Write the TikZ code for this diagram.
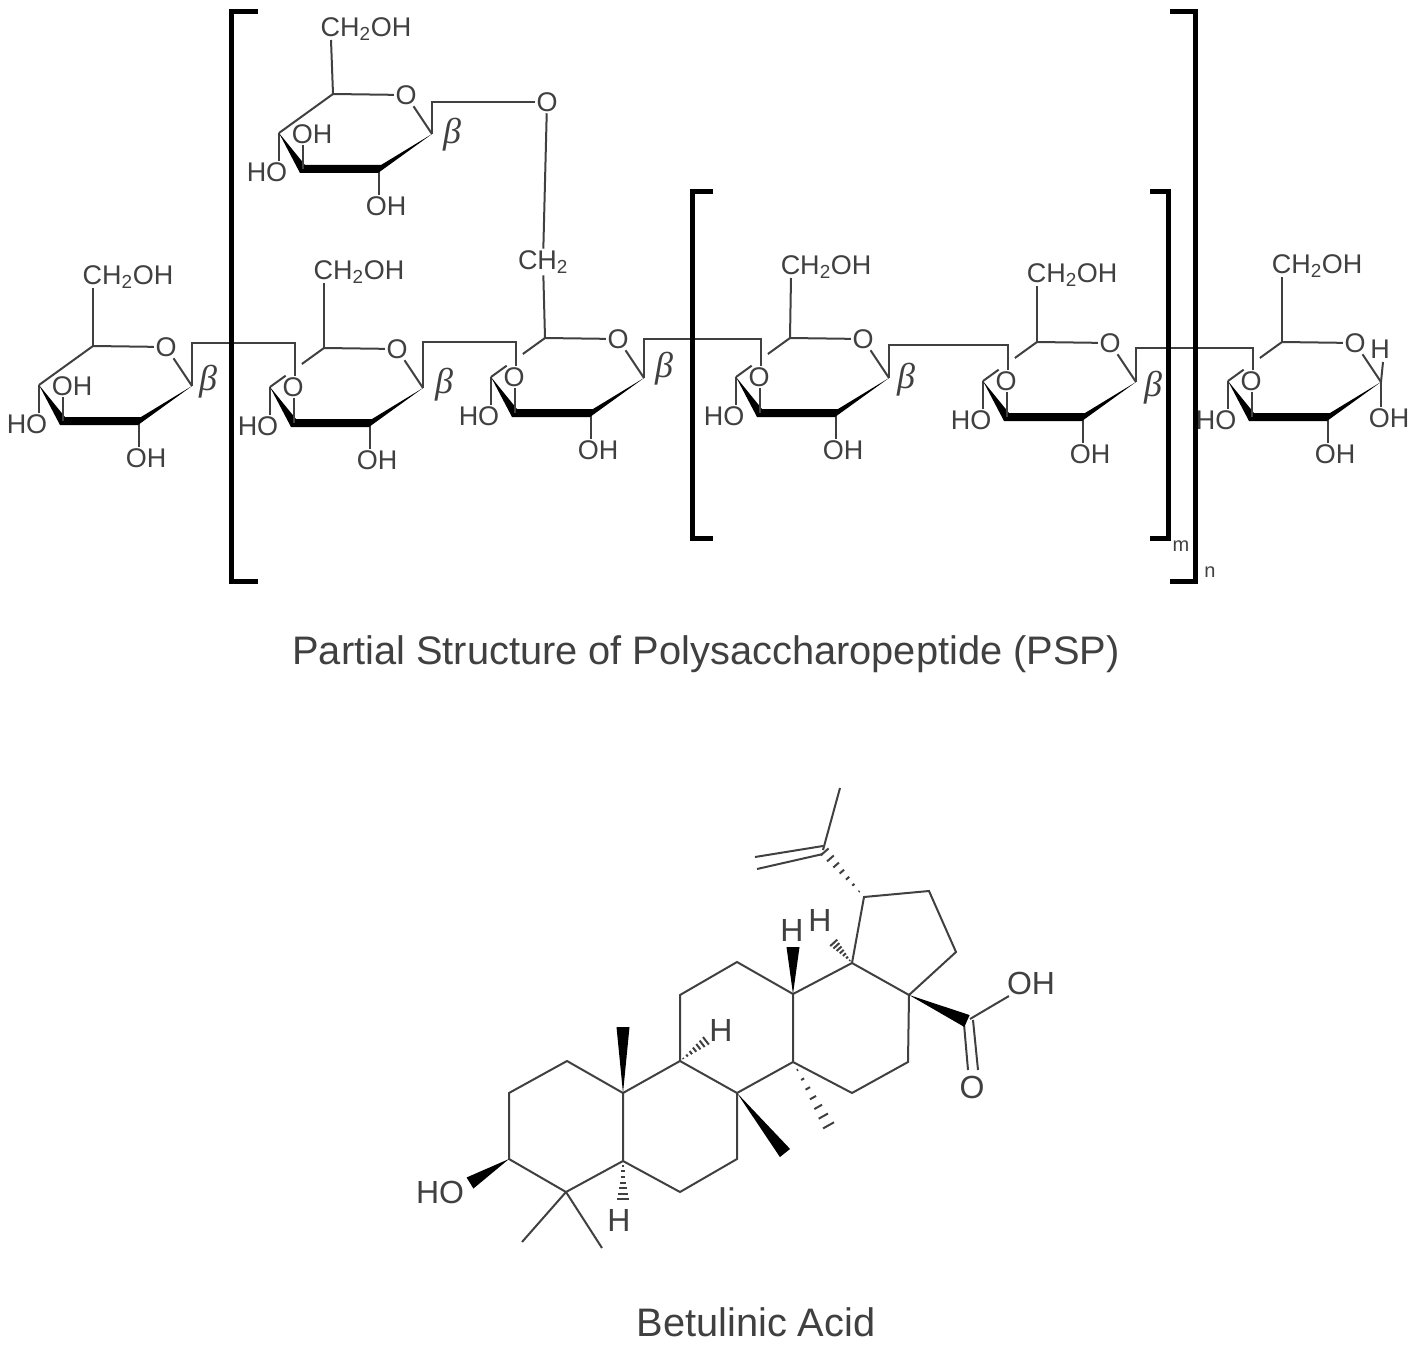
\documentclass[tikz,border=0pt]{standalone}
\usepackage{fontspec}
\setmainfont{Liberation Sans}
\newfontfamily\betafont{Liberation Serif}
\usetikzlibrary{calc}
\definecolor{inkgray}{gray}{0.25}
\tikzset{
	bond/.style={draw=inkgray,line width=2pt,line join=miter},
	bracketline/.style={draw=black,line width=5pt,line join=miter},
	atom/.style={inner sep=1.5pt,text=inkgray,font=\fontsize{27}{29}\selectfont},
	bigatom/.style={inner sep=1.5pt,text=inkgray,font=\fontsize{32}{34}\selectfont},
	greek/.style={inner sep=0pt,text=inkgray,font=\betafont\itshape\fontsize{36}{38}\selectfont},
	index/.style={inner sep=0pt,text=inkgray,font=\fontsize{20}{22}\selectfont},
	caption/.style={inner sep=0pt,text=inkgray,font=\fontsize{39.8}{42}\selectfont}
}
% solid wedge from (a) to (b), half width at (b)
\newcommand{\wedgebond}[3]{\fill[black] (#1) -- ($(#2)!#3!90:(#1)$) -- ($(#2)!#3!-90:(#1)$) -- cycle;}
% hashed wedge from (a) to (b), half width at (b)
\newcommand{\hashbond}[3]{\foreach \t in {0.12,0.26,...,1.0}
	\draw[inkgray,line width=2pt] ($(#1)!\t!(#2)!{\t*#3}!90:(#1)$) -- ($(#1)!\t!(#2)!{\t*#3}!-90:(#1)$);}
% sugar ring: name, x and y of the carbon under CH2OH
\newcommand{\sugarring}[3]{
	\coordinate (#1c5) at (#2,#3);
	\coordinate (#1c4) at (#2-54,#3+39);
	\coordinate (#1c3) at (#2-30,#3+75);
	\coordinate (#1c2) at (#2+46,#3+75);
	\coordinate (#1c1) at (#2+99,#3+40);
	\node[atom] (#1o) at (#2+73,#3+1) {O};
	\node[atom] (#1ho) at (#2-66,#3+78) {HO};
	\node[atom] (#1oh) at (#2+53,#3+112) {OH};
	\draw[bond] (#1c5) -- (#1o) -- (#1c1);
	\draw[bond] (#1c4) -- (#1c4 |- #1ho.north);
	\draw[bond] (#1c2) -- (#1c2 |- #1oh.north);
	\fill[black] (#1c4) -- ($(#1c3)+(2,-4)$) -- ($(#1c2)+(2,-4)$) -- (#1c1) -- ($(#1c2)+(-1,4)$) -- ($(#1c3)+(-3,4)$) -- cycle;
}
% CH2OH on top of a ring: name, label position
\newcommand{\sidechain}[3]{
	\node[atom] (#1ch) at (#2,#3+2) {CH\textsubscript{2}OH};
	\coordinate (#1chc) at (#2-35,#3+13);
	\draw[bond] (#1c5) -- (#1chc);
}
% ring with a free OH above the front bond
\newcommand{\freering}[1]{
	\node[atom] (#1up) at ($(#1c5)+(-21,40)$) {OH};
	\draw[bond] (#1c5) -- (#1c4);
	\draw[bond] (#1c3) -- (#1c3 |- #1up.south);
}
% ring joined through the O above the front bond
\newcommand{\chainlink}[3]{
	\node[atom] (#2up) at ($(#2c3)+(-1,-36)$) {O};
	\draw[bond] (#2c5) -- ($(#2c5)!.41!(#2c4)$);
	\draw[bond] ($(#2c5)!.71!(#2c4)$) -- (#2c4);
	\draw[bond] (#2c3) -- (#2c3 |- #2up.south);
	\coordinate (#2link) at ($(#2c3 |- 0,#3)+(1,0)$);
	\draw[bond] (#1c1) |- (#2link) -- (#2link |- #2up.north);
}

\begin{document}
\begin{tikzpicture}[x=1pt,y=-1pt]
	\useasboundingbox (0,0) rectangle (1417,1351);
	%%%%% POLYSACCHARIDE %%%%%
	\sugarring{ra}{93}{346}
	\sugarring{rb}{324}{348}
	\sugarring{rc}{545}{338}
	\sugarring{rd}{790}{338}
	\sugarring{re}{1037}{342}
	\sugarring{rf}{1282}{342}
	\sugarring{rt}{333}{94}

	\sidechain{ra}{128}{275}
	\sidechain{rb}{359}{270}
	\sidechain{rd}{826}{265}
	\sidechain{re}{1072}{273}
	\sidechain{rf}{1317}{264}
	\sidechain{rt}{366}{27}

	\freering{ra}
	\freering{rt}
	\chainlink{ra}{rb}{343}
	\chainlink{rb}{rc}{342}
	\chainlink{rc}{rd}{339}
	\chainlink{rd}{re}{345}
	\chainlink{re}{rf}{348}

	% glycosidic O up to the branch
	\node[atom] (bridgeo) at (547,102) {O};
	\node[atom] (bridgech) at (543,262) {CH\textsubscript{2}};
	\draw[bond] (rtc1) |- (bridgeo);
	\draw[bond] (bridgeo) -- (bridgech);
	\draw[bond] (bridgech) -- (rcc5);

	% reducing end
	\node[atom] (endh) at (1380,349) {H};
	\node[atom] (endoh) at (1389,418) {OH};
	\draw[bond] (rfc1) -- (1383,362);
	\draw[bond] (rfc1) -- (rfc1 |- endoh.north);

	\node[greek] (betaa) at (208,382) {β};
	\node[greek] (betab) at (444,385) {β};
	\node[greek] (betat) at (452,135) {β};
	\node[greek] (betac) at (664,369) {β};
	\node[greek] (betad) at (906,380) {β};
	\node[greek] (betae) at (1153,388) {β};

	% brackets
	\draw[bracketline] (258,12) -- (231,12) -- (231,581) -- (258,581);
	\draw[bracketline] (713,192) -- (692,192) -- (692,538) -- (713,538);
	\draw[bracketline] (1150,192) -- (1168,192) -- (1168,538) -- (1150,538);
	\draw[bracketline] (1170,12) -- (1195,12) -- (1195,581) -- (1170,581);
	\node[index] (labm) at (1181,546) {m};
	\node[index] (labn) at (1210,572) {n};

	\node[caption] (captop) at (706,654) {Partial Structure of Polysaccharopeptide (PSP)};

	%%%%% BETULINIC ACID %%%%%
	\coordinate (ca) at (509,1159);
	\coordinate (cb) at (509,1093);
	\coordinate (cc) at (567,1061);
	\coordinate (cd) at (623,1093);
	\coordinate (ce) at (623,1161);
	\coordinate (cf) at (566,1192);
	\coordinate (cg) at (680,1061);
	\coordinate (ch) at (737,1093);
	\coordinate (ci) at (737,1159);
	\coordinate (cj) at (680,1192);
	\coordinate (ck) at (680,995);
	\coordinate (cl) at (737,962);
	\coordinate (cm) at (793,994);
	\coordinate (cn) at (793,1062);
	\coordinate (co) at (852,963);
	\coordinate (cp) at (909,995);
	\coordinate (cq) at (908,1062);
	\coordinate (cr) at (852,1093);
	\coordinate (cs) at (864,897);
	\coordinate (ct) at (929,891);
	\coordinate (cu) at (956,952);
	\coordinate (cv) at (823,850);
	\coordinate (cw) at (970,1019);
	\coordinate (mea) at (522,1242);
	\coordinate (meb) at (602,1248);
	\coordinate (mec) at (840,788);

	\draw[bond] (ca) -- (cb) -- (cc) -- (cd) -- (ce) -- (cf) -- cycle;
	\draw[bond] (cd) -- (cg) -- (ch) -- (ci) -- (cj) -- (ce);
	\draw[bond] (cg) -- (ck) -- (cl) -- (cm) -- (cn) -- (ch);
	\draw[bond] (cm) -- (co) -- (cp) -- (cq) -- (cr) -- (cn);
	\draw[bond] (co) -- (cs) -- (ct) -- (cu) -- (cp);
	\draw[bond] (cf) -- (mea);
	\draw[bond] (cf) -- (meb);
	\draw[bond] (cv) -- (mec);
	\draw[bond] (823,846) -- (755,857);
	\draw[bond] (823,854) -- (757,869);

	% acid group
	\node[bigatom] (acoh) at (1031,983) {OH};
	\node[bigatom] (acoo) at (972,1087) {O};
	\draw[bond] (cw) -- (acoh);
	\draw[bond] (964,1024) -- (968,1070);
	\draw[bond] (973,1020) -- (978,1070);
	\wedgebond{cp}{967,1021}{6.5pt}

	% hydroxyl and methyl wedges
	\node[bigatom] (hoa) at (440,1192) {HO};
	\wedgebond{ca}{470,1183}{6.5pt}
	\wedgebond{cd}{623,1027}{6.5pt}
	\wedgebond{ch}{785,1153}{6.5pt}
	\wedgebond{cm}{793,947}{6.5pt}
	\hashbond{cn}{830,1128}{6.5pt}
	\hashbond{cs}{cv}{5.5pt}

	% hydrogens
	\node[bigatom] (ha) at (792,930) {H};
	\node[bigatom] (hb) at (820,920) {H};
	\node[bigatom] (hc) at (721,1030) {H};
	\node[bigatom] (hd) at (619,1220) {H};
	\hashbond{co}{833,942}{5pt}
	\hashbond{cg}{707,1040}{5pt}
	\hashbond{ce}{623,1201}{6pt}

	\node[caption] (capbot) at (756,1322) {Betulinic Acid};
	%%%%% END %%%%%
\end{tikzpicture}
\end{document}
